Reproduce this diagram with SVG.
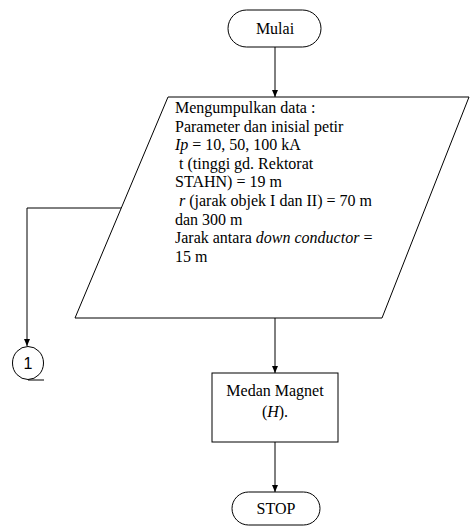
<svg xmlns="http://www.w3.org/2000/svg" width="472" height="529" viewBox="0 0 472 529">
<defs>
<style>
.s{fill:#fff;stroke:#000;stroke-width:1}
.c{fill:none;stroke:#000;stroke-width:1}
.t{font-family:"Liberation Serif","Times New Roman",serif;font-size:16px;fill:#000}
.m{text-anchor:middle}
.a{font-family:"Liberation Sans",Arial,sans-serif;font-size:16px;fill:#000;text-anchor:middle}
</style>
<marker id="ar" markerWidth="8" markerHeight="8" refX="7" refY="4" orient="auto" markerUnits="userSpaceOnUse">
<path d="M0,1 L7,4 L0,7 Z" fill="#000"/>
</marker>
</defs>
<g id="connectors">
<line class="c" x1="275" y1="47" x2="275" y2="97" marker-end="url(#ar)"/>
<line class="c" x1="275" y1="318" x2="275" y2="373" marker-end="url(#ar)"/>
<line class="c" x1="275" y1="442" x2="275" y2="492" marker-end="url(#ar)"/>
<polyline class="c" points="121,208 27,208 27,346" marker-end="url(#ar)"/>
</g>
<g id="start">
<rect class="s" x="228" y="10" width="93" height="37" rx="18.5"/>
<text class="t m" x="275" y="34">Mulai</text>
</g>
<g id="input">
<polygon class="s" points="168,97 469,97 382,318 75,318"/>
<text class="t" x="175" y="113">Mengumpulkan data :</text>
<text class="t" x="175" y="131.6">Parameter dan inisial petir</text>
<text class="t" x="175" y="150.2"><tspan font-style="italic">Ip</tspan> = 10, 50, 100  kA</text>
<text class="t" x="179" y="168.8">t (tinggi gd. Rektorat</text>
<text class="t" x="175" y="187.4">STAHN) = 19 m</text>
<text class="t" x="179" y="206"><tspan font-style="italic">r</tspan> (jarak objek I dan II) = 70 m</text>
<text class="t" x="175" y="224.6">dan 300 m</text>
<text class="t" x="175" y="243.2">Jarak antara <tspan font-style="italic">down conductor</tspan> =</text>
<text class="t" x="175" y="262">15 m</text>
</g>
<g id="connector1">
<ellipse class="s" cx="28" cy="363" rx="15.5" ry="16.5"/>
<line class="c" x1="28" y1="380" x2="44" y2="380"/>
<text class="a" x="28" y="369">1</text>
</g>
<g id="process">
<rect class="s" x="212" y="373" width="126" height="69"/>
<text class="t m" x="275" y="396">Medan Magnet</text>
<text class="t m" x="275" y="417">(<tspan font-style="italic">H</tspan>).</text>
</g>
<g id="stop">
<rect class="s" x="232" y="492" width="88" height="33" rx="16.5"/>
<text class="t m" x="276" y="514">STOP</text>
</g>
</svg>
